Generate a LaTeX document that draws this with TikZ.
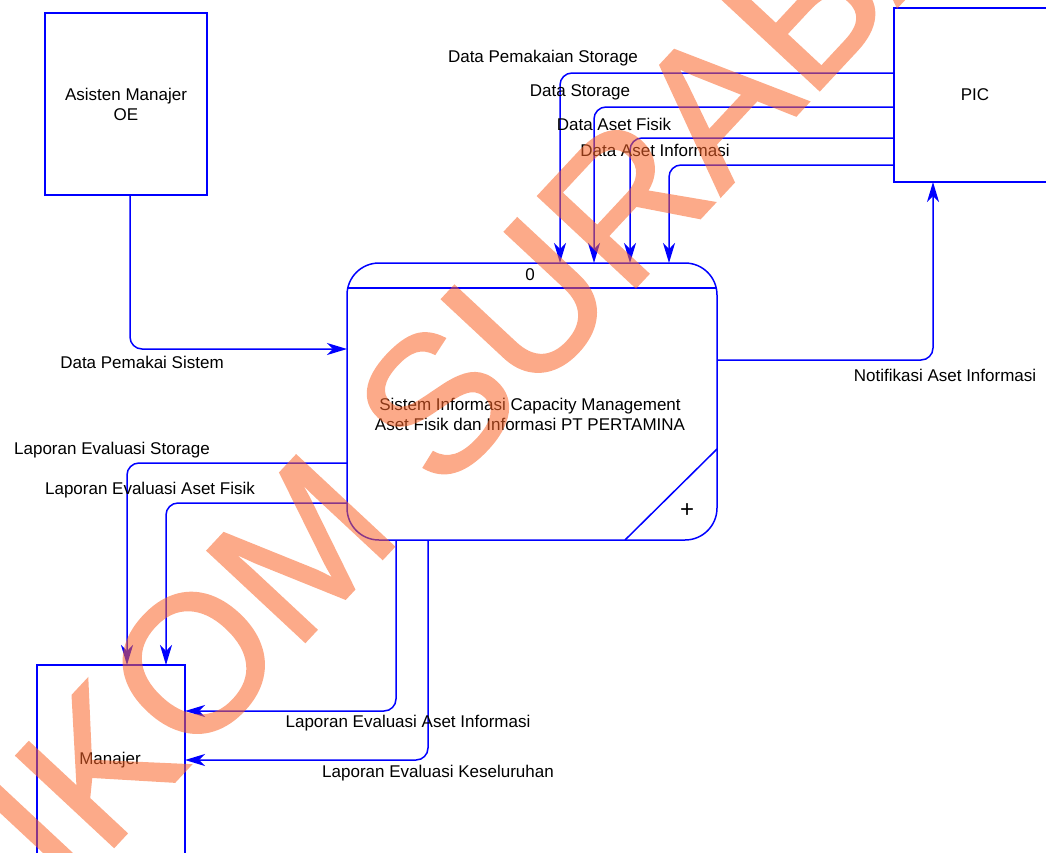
\documentclass[tikz,border=0pt]{standalone}
\usepackage{fontspec}
\setmainfont{Liberation Sans}
\newfontfamily\wmfont[FakeBold=1.2]{Liberation Sans}
\usetikzlibrary{arrows.meta}
\definecolor{flow}{RGB}{0,0,255}
\definecolor{wmorange}{RGB}{250,100,40}
\begin{document}
\begin{tikzpicture}[x=1pt,y=-1pt,
  every node/.style={font=\fontsize{17}{20}\selectfont, inner sep=0pt, outer sep=0pt},
  entity/.style={draw=flow, line width=1.5pt, align=center},
  flowline/.style={draw=flow, line width=1.5pt, rounded corners=12pt,
    -{Stealth[length=20pt,width=12pt,inset=6pt]}},
  lbl/.style={anchor=center}]
\useasboundingbox (0,0) rectangle (1046,852);

% external entities
\node[entity, minimum width=162, minimum height=182] (ame) at (126,104) {Asisten Manajer\\OE};
\node[entity, minimum width=162, minimum height=174] (pic) at (975,95) {PIC};
\node[entity, minimum width=148, minimum height=195, text depth=0pt] (man) at (111,762.5) {};
\node (mantext) at (110,760) {Manajer};

% process
\node[draw=flow, line width=1.5pt, rounded corners=32pt, minimum width=370, minimum height=277] (proc) at (532,401.5) {};
\draw[flow, line width=1.5pt] (proc.west |- 0,288) -- (proc.east |- 0,288);
\draw[flow, line width=1.5pt] (proc.east |- 0,449) -- (proc.south -| 625,0);
\node (pnum) at (530,275) {0};
\node[align=center] (ptext) at (530,414) {Sistem Informasi Capacity Management\\Aset Fisik dan Informasi PT PERTAMINA};
\node[font=\fontsize{24}{24}\selectfont] (plus) at (687,511) {+};

% flows from PIC
\draw[flowline] (pic.west |- 0,73) -- (560,73) -- (proc.north -| 560,0);
\draw[flowline] (pic.west |- 0,107) -- (594,107) -- (proc.north -| 594,0);
\draw[flowline] (pic.west |- 0,138) -- (630,138) -- (proc.north -| 630,0);
\draw[flowline] (pic.west |- 0,165) -- (669,165) -- (proc.north -| 669,0);
\node[lbl] (l1) at (543,58) {Data Pemakaian Storage};
\node[lbl] (l2) at (580,92) {Data Storage};
\node[lbl] (l3) at (614,124) {Data Aset Fisik};
\node[lbl] (l4) at (655,150) {Data Aset Informasi};

% Asisten -> process
\draw[flowline] (ame.south -| 130,0) -- (130,349) -- (proc.west |- 0,349);
\node[lbl] (l5) at (142,362) {Data Pemakai Sistem};

% process -> PIC
\draw[flowline] (proc.east |- 0,360) -- (933,360) -- (pic.south -| 933,0);
\node[lbl] (l6) at (945,375) {Notifikasi Aset Informasi};

% process -> Manajer
\draw[flowline] (proc.west |- 0,463) -- (127,463) -- (man.north -| 127,0);
\draw[flowline] (proc.west |- 0,503) -- (166,503) -- (man.north -| 166,0);
\draw[flowline] (proc.south -| 396,0) -- (396,711) -- (man.east |- 0,711);
\draw[flowline] (proc.south -| 428,0) -- (428,760) -- (man.east |- 0,760);
\node[lbl] (l7) at (112,450) {Laporan Evaluasi Storage};
\node[lbl] (l8) at (150,490) {Laporan Evaluasi Aset Fisik};
\node[lbl] (l9) at (408,723) {Laporan Evaluasi Aset Informasi};
\node[lbl] (l10) at (438,773) {Laporan Evaluasi Keseluruhan};

% watermark
\begin{scope}[transparency group, opacity=0.55]
\node[text=wmorange, rotate=47, font=\wmfont\fontsize{194}{194}\selectfont] (wm) at (471,366) {STIKOM SURABAYA};
\end{scope}
\end{tikzpicture}
\end{document}
